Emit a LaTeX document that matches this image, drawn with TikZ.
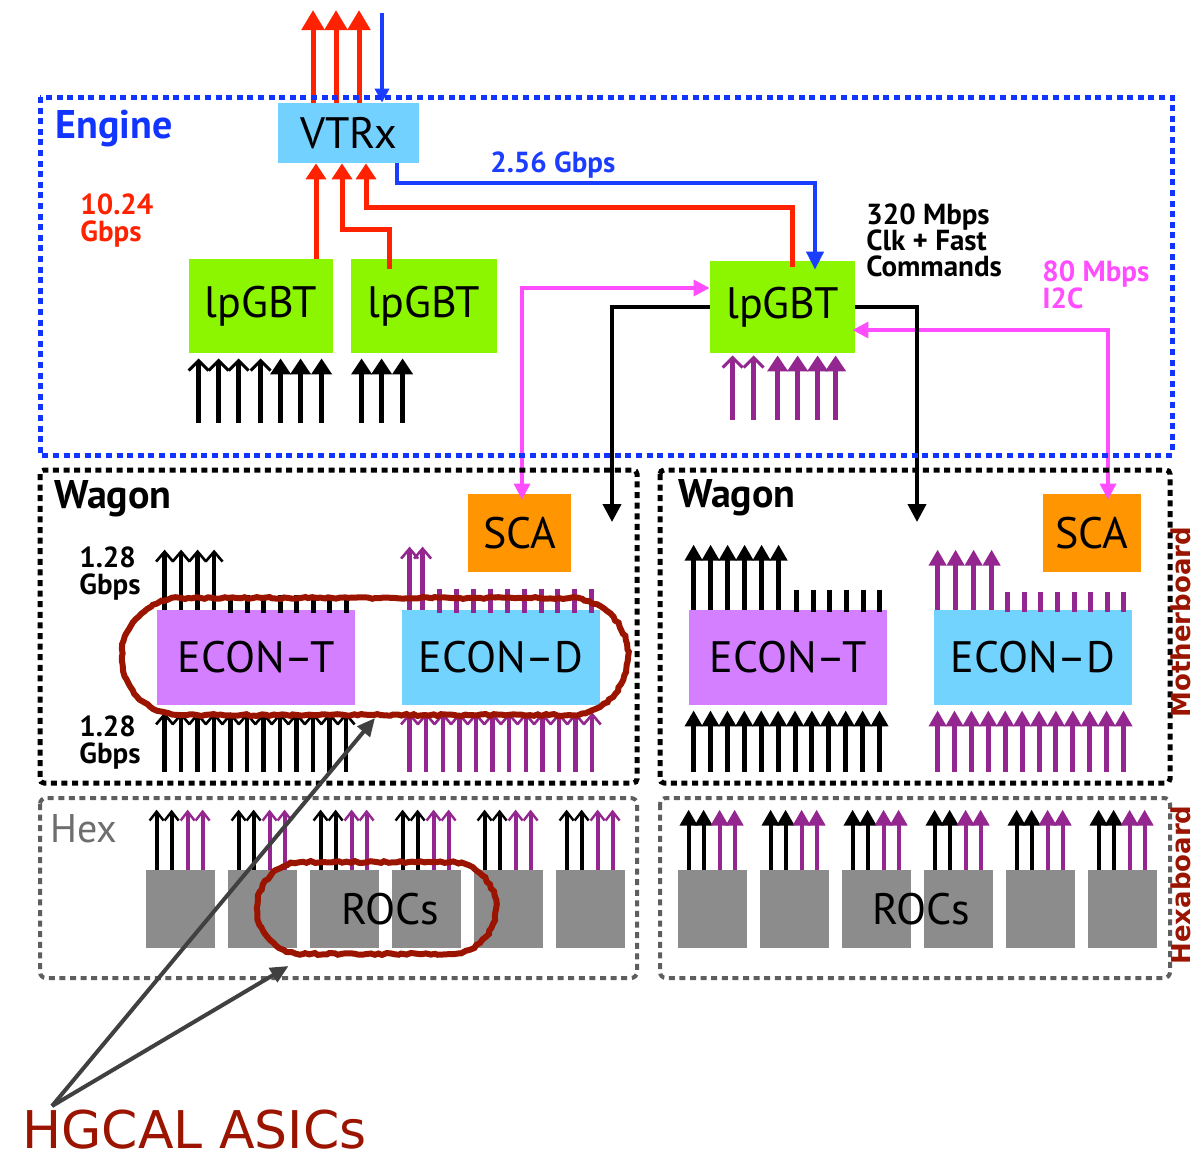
\documentclass[tikz,border=0pt]{standalone}
\usepackage{fontspec}
\setmainfont{PT Sans}
\newfontfamily\comicfont{DejaVu Sans}
\usetikzlibrary{arrows.meta,calc,decorations.pathmorphing,shapes.misc}
\definecolor{engblue}{HTML}{1234FF}
\definecolor{redl}{HTML}{FF2200}
\definecolor{bluel}{HTML}{1A3DFF}
\definecolor{vtrxc}{HTML}{73D1FF}
\definecolor{greenc}{HTML}{8CF500}
\definecolor{scac}{HTML}{FF9500}
\definecolor{econt}{HTML}{D37FFF}
\definecolor{econd}{HTML}{73D3FF}
\definecolor{purp}{HTML}{93268F}
\definecolor{pinkl}{HTML}{FF4DFF}
\definecolor{rocc}{HTML}{8C8C8C}
\definecolor{hexc}{HTML}{5E5E5E}
\definecolor{dred}{HTML}{9B1400}
\definecolor{garr}{HTML}{404040}
\definecolor{hextxt}{HTML}{6E6E6E}
\begin{document}
\begin{tikzpicture}[x=0.5pt,y=-0.5pt,
  chip/.style={inner sep=0pt, font=\fontsize{22}{26}\selectfont},
  lbl/.style={inner sep=0pt, anchor=base west, font=\bfseries\fontsize{14.5}{16}\selectfont},
  biglbl/.style={inner sep=0pt, anchor=base west, font=\bfseries\fontsize{20}{24}\selectfont},
  eopen/.style={line width=2.5pt,{Straight Barb[width=10pt,length=5pt,line width=1.5pt]}-},
  efill/.style={line width=2.5pt,{Triangle[width=10pt,length=8pt]}-},
  wopen/.style={line width=2.2pt,{Straight Barb[width=8.5pt,length=5pt,line width=1.3pt]}-},
  wfill/.style={line width=2.5pt,{Triangle[width=8.5pt,length=8pt]}-},
  hopen/.style={line width=2pt,{Straight Barb[width=7pt,length=4.5pt,line width=1.2pt]}-},
  hfill/.style={line width=2pt,{Triangle[width=8.5pt,length=8pt]}-},
  tick/.style={line width=2.5pt},
  redar/.style={draw=redl,line width=2.5pt,-{Triangle[width=10pt,length=8pt]}},
  bdot/.style={line width=2.5pt,dash pattern=on 3pt off 2.3pt},
  garrow/.style={draw=garr,line width=2pt,-{Triangle[width=8pt,length=9pt]}},
  rough/.style={rounded rectangle,draw=dred,line width=3pt,inner sep=0pt,decorate,
    decoration={random steps,segment length=2pt,amplitude=0.5pt}}
]
\useasboundingbox (0,0) rectangle (1198,1158);
\fill[white] (0,0) rectangle (1198,1158);

% ---------- chips ----------
\node[chip,fill=vtrxc,minimum width=70.5pt,minimum height=30pt] (vtrx) at (348.5,133) {VTRx};
\node[chip,fill=greenc,minimum width=72pt,minimum height=47pt] (lp1) at (261,306) {lpGBT};
\node[chip,fill=greenc,minimum width=73pt,minimum height=47pt] (lp2) at (424,306) {lpGBT};
\node[chip,fill=greenc,minimum width=72.5pt,minimum height=46pt] (lp3) at (782.5,307) {lpGBT};
\node[chip,fill=scac,minimum width=51.5pt,minimum height=39pt] (sca1) at (519.5,533) {SCA};
\node[chip,fill=scac,minimum width=49pt,minimum height=39pt] (sca2) at (1092,533) {SCA};
\node[chip,fill=econt,minimum width=99pt,minimum height=47.5pt] (et1) at (256,657.5) {ECON–T};
\node[chip,fill=econd,minimum width=99pt,minimum height=47.5pt] (ed1) at (501,657.5) {ECON–D};
\node[chip,fill=econt,minimum width=99pt,minimum height=47.5pt] (et2) at (788,657.5) {ECON–T};
\node[chip,fill=econd,minimum width=99pt,minimum height=47.5pt] (ed2) at (1033,657.5) {ECON–D};
\foreach \i in {0,...,5} {
  \node[fill=rocc,minimum width=34.5pt,minimum height=39pt,inner sep=0pt] (rl\i) at (180.5+82*\i,909) {};
  \node[fill=rocc,minimum width=34.5pt,minimum height=39pt,inner sep=0pt] (rr\i) at (712.5+82*\i,909) {};
}
\node[chip] (rocl) at (390,909) {ROCs};
\node[chip] (rocr) at (921,909) {ROCs};

% ---------- VTRx links ----------
\coordinate (o1) at (313,10);
\coordinate (o2) at (336,10);
\coordinate (o3) at (359,10);
\foreach \o in {o1,o2,o3}
  \draw[draw=redl,line width=2.5pt,-{Triangle[width=11pt,length=10pt]}] (vtrx.north -| \o) -- (\o);
\coordinate (bin) at (382,13);
\draw[draw=bluel,line width=1.8pt,-{Triangle[width=7pt,length=7pt]}] (bin) -- (vtrx.north -| bin);

\coordinate (r1) at (316,0);
\coordinate (r2) at (342,229);
\coordinate (r2b) at (389,229);
\coordinate (r3) at (366,207);
\coordinate (r3b) at (792,207);
\draw[redar] (lp1.north -| r1) -- (vtrx.south -| r1);
\draw[redar] ($(lp2.north -| r2b)+(0,10)$) -- (r2b) -- (r2) -- (vtrx.south -| r2);
\draw[redar] ($(lp3.north -| r3b)+(0,6)$) -- (r3b) -- (r3) -- (vtrx.south -| r3);

\coordinate (b1) at (397,183);
\coordinate (b2) at (815,183);
\draw[draw=bluel,line width=2pt,-{Triangle[width=8.5pt,length=9pt]}]
  (vtrx.south -| b1) -- (b1) -- (b2) -- ($(lp3.north -| b2)+(0,9)$);

% ---------- I2C and fast command lines ----------
\coordinate (p1) at (522,288);
\coordinate (p2) at (1108,330);
\draw[draw=pinkl,line width=1.6pt,{Triangle[width=8pt,length=8pt]}-{Triangle[width=8pt,length=8pt]}]
  ($(sca1.north -| p1)+(0,6)$) -- (p1) -- (lp3.west |- p1);
\draw[draw=pinkl,line width=1.6pt,{Triangle[width=8pt,length=8pt]}-{Triangle[width=8pt,length=8pt]}]
  ($(lp3.east |- p2)+(-3,0)$) -- (p2) -- ($(sca2.north -| p2)+(0,6)$);
\coordinate (k1) at (612,522);
\coordinate (k2) at (917,522);
\draw[line width=2pt,-{Triangle[width=9pt,length=9pt]}] (lp3.west) -| (k1);
\draw[line width=2pt,-{Triangle[width=9pt,length=9pt]}] (lp3.east) -| (k2);

% ---------- engine inputs ----------
\foreach \dx in {10,30,50,72}
  \draw[eopen] ($(lp1.south west)+(\dx,5)$) -- ++(0,65);
\foreach \dx in {92,112,133}
  \draw[efill] ($(lp1.south west)+(\dx,5)$) -- ++(0,65);
\foreach \dx in {11,31,52}
  \draw[efill] ($(lp2.south west)+(\dx,5)$) -- ++(0,65);
\foreach \dx in {23,44}
  \draw[eopen,purp] ($(lp3.south west)+(\dx,2)$) -- ++(0,65);
\foreach \dx in {68,88,108,126}
  \draw[efill,purp] ($(lp3.south west)+(\dx,2)$) -- ++(0,65);

% ---------- left wagon ----------
\foreach \dx in {8,24.5,41,57.5}
  \draw[wopen] ($(et1.north west)+(\dx,-60)$) -- ($(et1.north west)+(\dx,0)$);
\foreach \j in {0,...,7}
  \draw[tick] ($(et1.north west)+(74+16.5*\j,-15)$) -- ++(0,18);
\foreach \j in {0,...,11}
  \draw[wopen] ($(et1.south west)+(8+16.5*\j,7)$) -- ++(0,60);
\foreach \dx in {8,21}
  \draw[wopen,purp] ($(ed1.north west)+(\dx,-63)$) -- ($(ed1.north west)+(\dx,0)$);
\foreach \j in {0,...,9}
  \draw[tick,purp] ($(ed1.north west)+(38+16.9*\j,-21)$) -- ++(0,24);
\foreach \j in {0,...,11}
  \draw[wopen,purp] ($(ed1.south west)+(8+16.6*\j,7)$) -- ++(0,60);

% ---------- right wagon ----------
\foreach \i in {0,...,5}
  \draw[wfill] ($(et2.north west)+(5+17*\i,-65)$) -- ($(et2.north west)+(5+17*\i,0)$);
\foreach \j in {0,...,5}
  \draw[tick] ($(et2.north west)+(108+16.6*\j,-20)$) -- ++(0,22);
\foreach \j in {0,...,11}
  \draw[wfill] ($(et2.south west)+(5+16.9*\j,5)$) -- ++(0,62);
\foreach \i in {0,...,3}
  \draw[wfill,purp] ($(ed2.north west)+(4+18*\i,-60)$) -- ($(ed2.north west)+(4+18*\i,0)$);
\foreach \j in {0,...,7}
  \draw[tick,purp] ($(ed2.north west)+(74+16.6*\j,-18)$) -- ++(0,20);
\foreach \j in {0,...,11}
  \draw[wfill,purp] ($(ed2.south west)+(4+16.9*\j,5)$) -- ++(0,62);

% ---------- hex arrows ----------
\foreach \i in {0,...,5} {
  \foreach \dx in {11,26}
    \draw[hopen] ($(rl\i.north west)+(\dx,-60)$) -- ($(rl\i.north west)+(\dx,0)$);
  \foreach \dx in {42,57}
    \draw[hopen,purp] ($(rl\i.north west)+(\dx,-60)$) -- ($(rl\i.north west)+(\dx,0)$);
  \foreach \dx in {11,26}
    \draw[hfill] ($(rr\i.north west)+(\dx,-60)$) -- ($(rr\i.north west)+(\dx,0)$);
  \foreach \dx in {42,57}
    \draw[hfill,purp] ($(rr\i.north west)+(\dx,-60)$) -- ($(rr\i.north west)+(\dx,0)$);
}

% ---------- dotted frames ----------
\draw[bdot,engblue] (40,97) rectangle (1172,455);
\draw[bdot,black,rounded corners=2pt] (40,470) rectangle (637,783);
\draw[bdot,black,rounded corners=2pt] (660,470) rectangle (1170,783);
\draw[bdot,hexc,line width=2pt,rounded corners=3pt] (40,798) rectangle (637,978);
\draw[bdot,hexc,line width=2pt,rounded corners=3pt] (660,798) rectangle (1170,978);

% ---------- labels ----------
\node[biglbl,text=engblue] (eng) at (55,138) {Engine};
\node[lbl,text=redl] (g1a) at (80,214) {10.24};
\node[lbl,text=redl] (g1b) at (80,241) {Gbps};
\node[lbl,text=bluel] (g2) at (490,172) {2.56 Gbps};
\node[lbl] (c1) at (866,224) {320 Mbps};
\node[lbl] (c2) at (866,250) {Clk + Fast};
\node[lbl] (c3) at (866,276) {Commands};
\node[lbl,text=pinkl] (i1) at (1042,281) {80 Mbps};
\node[lbl,text=pinkl] (i2) at (1042,308) {I2C};
\node[biglbl] (wl) at (54,508) {Wagon};
\node[biglbl] (wr) at (678,507) {Wagon};
\node[lbl] (w1a) at (79,567) {1.28};
\node[lbl] (w1b) at (79,594) {Gbps};
\node[lbl] (w2a) at (79,736) {1.28};
\node[lbl] (w2b) at (79,763) {Gbps};
\node[inner sep=0pt,anchor=base west,text=hextxt,font=\fontsize{20}{24}\selectfont] (hx) at (50,842) {Hex};
\node[rotate=90,inner sep=0pt,text=dred,font=\comicfont\bfseries\fontsize{13}{16}\selectfont] (mb) at (1181,622) {Motherboard};
\node[rotate=90,inner sep=0pt,text=dred,font=\comicfont\bfseries\fontsize{13}{16}\selectfont] (hb) at (1181,885) {Hexaboard};

% ---------- annotations ----------
\node[rough,minimum width=253pt,minimum height=58.5pt] (ell1) at (375,656.5) {};
\node[rough,minimum width=119.5pt,minimum height=46pt] (ell2) at (376.5,908) {};
\node[inner sep=0pt,anchor=base west,text=dred,font=\comicfont\fontsize{26}{30}\selectfont] (hg) at (22,1148) {HGCAL ASICs};
\coordinate (apex) at (52,1106);
\draw[garrow] (apex) -- (ell1.south);
\draw[garrow] (apex) -- ($(ell2.south)+(-88,9)$);
\end{tikzpicture}
\end{document}
